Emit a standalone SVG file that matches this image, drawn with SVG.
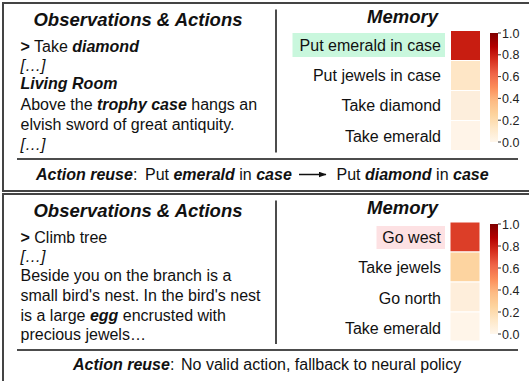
<svg xmlns="http://www.w3.org/2000/svg" width="529" height="381" viewBox="0 0 529 381">
<defs>
<style>
text{font-family:"Liberation Sans",Arial,Helvetica,sans-serif;fill:#111;}
.t{font-size:18.5px;font-weight:bold;font-style:italic;}
.body{font-size:16px;}
.b{font-weight:bold;}
.bi{font-weight:bold;font-style:italic;}
.i{font-style:italic;}
.lbl{font-size:16px;text-anchor:end;}
.tick{font-size:12.5px;fill:#222;}
.panel{fill:#fff;stroke:#444;stroke-width:2;}
.sep{stroke:#111;stroke-width:1.5;}
.cell{stroke:#fff;stroke-width:1;}
.tk{stroke:#333;stroke-width:1;}
</style>
<linearGradient id="orrd" x1="0" y1="0" x2="0" y2="1">
<stop offset="0" stop-color="#7f0000"/>
<stop offset="0.125" stop-color="#b30000"/>
<stop offset="0.25" stop-color="#d7301f"/>
<stop offset="0.375" stop-color="#ef6548"/>
<stop offset="0.5" stop-color="#fc8d59"/>
<stop offset="0.625" stop-color="#fdbb84"/>
<stop offset="0.75" stop-color="#fdd49e"/>
<stop offset="0.875" stop-color="#fee8c8"/>
<stop offset="1" stop-color="#fff7ec"/>
</linearGradient>
<marker id="ah" markerWidth="8" markerHeight="6" refX="7.5" refY="3" orient="auto" markerUnits="userSpaceOnUse">
<path d="M0,0 L8,3 L0,6 Z" fill="#111"/>
</marker>
</defs>

<g id="panel-top">
<rect class="panel" x="3" y="3" width="540" height="188"/>
<line class="sep" x1="276" y1="9.5" x2="276" y2="152.5"/>
<line class="sep" x1="17" y1="159" x2="518" y2="159"/>
</g>

<g id="obs-top">
<text class="t" x="138" y="26" text-anchor="middle">Observations &amp; Actions</text>
<text class="body" x="20.5" y="52"><tspan class="b">&gt;</tspan> Take <tspan class="bi">diamond</tspan></text>
<text class="body i" x="20.5" y="71">[…]</text>
<text class="body bi" x="20.5" y="89">Living Room</text>
<text class="body" x="20.5" y="110">Above the <tspan class="bi">trophy case</tspan> hangs an</text>
<text class="body" x="20.5" y="130">elvish sword of great antiquity.</text>
<text class="body i" x="20.5" y="150">[…]</text>
</g>

<g id="memory-top">
<text class="t" x="402.5" y="23" text-anchor="middle">Memory</text>
<rect x="292.5" y="33" width="152.5" height="24" fill="#c9f7dd"/>
<text class="lbl" x="441" y="51">Put emerald in case</text>
<text class="lbl" x="441" y="81">Put jewels in case</text>
<text class="lbl" x="441" y="111">Take diamond</text>
<text class="lbl" x="441" y="141.5">Take emerald</text>
<rect class="cell" x="450.5" y="30.5" width="30" height="30" fill="#c81d11"/>
<rect class="cell" x="450.5" y="60.5" width="30" height="30" fill="#fee6c6"/>
<rect class="cell" x="450.5" y="90.5" width="30" height="30" fill="#fdeedc"/>
<rect class="cell" x="450.5" y="120.5" width="30" height="30" fill="#fff4e8"/>
</g>

<g id="colorbar-top">
<rect x="490" y="33" width="8" height="109" fill="url(#orrd)"/>
<g class="tk">
<line x1="498" y1="33" x2="501" y2="33"/>
<line x1="498" y1="54.8" x2="501" y2="54.8"/>
<line x1="498" y1="76.6" x2="501" y2="76.6"/>
<line x1="498" y1="98.4" x2="501" y2="98.4"/>
<line x1="498" y1="120.2" x2="501" y2="120.2"/>
<line x1="498" y1="142" x2="501" y2="142"/>
</g>
<text class="tick" x="502" y="37.5">1.0</text>
<text class="tick" x="502" y="59.3">0.8</text>
<text class="tick" x="502" y="81.1">0.6</text>
<text class="tick" x="502" y="102.9">0.4</text>
<text class="tick" x="502" y="124.7">0.2</text>
<text class="tick" x="502" y="146.5">0.0</text>
</g>

<g id="reuse-top">
<text class="body" x="36" y="180"><tspan class="bi">Action reuse</tspan>:</text>
<text class="body" x="145" y="180">Put <tspan class="bi">emerald</tspan> in <tspan class="bi">case</tspan></text>
<text class="body" x="336.5" y="180">Put <tspan class="bi">diamond</tspan> in <tspan class="bi">case</tspan></text>
</g>

<g id="panel-bottom">
<rect class="panel" x="3" y="194" width="540" height="200"/>
<line class="sep" x1="276" y1="200.5" x2="276" y2="344"/>
<line class="sep" x1="17" y1="350" x2="518" y2="350"/>
</g>

<g id="obs-bottom">
<text class="t" x="138" y="216.5" text-anchor="middle">Observations &amp; Actions</text>
<text class="body" x="20.5" y="243"><tspan class="b">&gt;</tspan> Climb tree</text>
<text class="body i" x="20.5" y="262">[…]</text>
<text class="body" x="20.5" y="281">Beside you on the branch is a</text>
<text class="body" x="20.5" y="301">small bird's nest. In the bird's nest</text>
<text class="body" x="20.5" y="321">is a large <tspan class="bi">egg</tspan> encrusted with</text>
<text class="body" x="20.5" y="340">precious jewels…</text>
</g>

<g id="memory-bottom">
<text class="t" x="402.5" y="213.5" text-anchor="middle">Memory</text>
<rect x="376.5" y="226" width="68.5" height="23" fill="#fde1e3"/>
<text class="lbl" x="441" y="243">Go west</text>
<text class="lbl" x="441" y="273">Take jewels</text>
<text class="lbl" x="441" y="303.5">Go north</text>
<text class="lbl" x="441" y="333.5">Take emerald</text>
<rect class="cell" x="450" y="222" width="30" height="30" fill="#dc3e28"/>
<rect class="cell" x="450" y="252" width="30" height="30" fill="#fdd4a0"/>
<rect class="cell" x="450" y="282" width="30" height="30" fill="#feeedb"/>
<rect class="cell" x="450" y="312" width="30" height="29" fill="#fff5e9"/>
</g>

<g id="colorbar-bottom">
<rect x="490" y="224" width="8" height="110" fill="url(#orrd)"/>
<g class="tk">
<line x1="498" y1="224" x2="501" y2="224"/>
<line x1="498" y1="246" x2="501" y2="246"/>
<line x1="498" y1="268" x2="501" y2="268"/>
<line x1="498" y1="290" x2="501" y2="290"/>
<line x1="498" y1="312" x2="501" y2="312"/>
<line x1="498" y1="334" x2="501" y2="334"/>
</g>
<text class="tick" x="502" y="228.5">1.0</text>
<text class="tick" x="502" y="250.5">0.8</text>
<text class="tick" x="502" y="272.5">0.6</text>
<text class="tick" x="502" y="294.5">0.4</text>
<text class="tick" x="502" y="316.5">0.2</text>
<text class="tick" x="502" y="338.5">0.0</text>
</g>

<g id="reuse-bottom">
<text class="body" x="73" y="370"><tspan class="bi">Action reuse</tspan>:</text>
<text class="body" x="181" y="370">No valid action, fallback to neural policy</text>
</g>

<g id="connectors">
<line x1="299" y1="174.5" x2="326" y2="174.5" stroke="#111" stroke-width="1.5" marker-end="url(#ah)"/>
</g>
</svg>
